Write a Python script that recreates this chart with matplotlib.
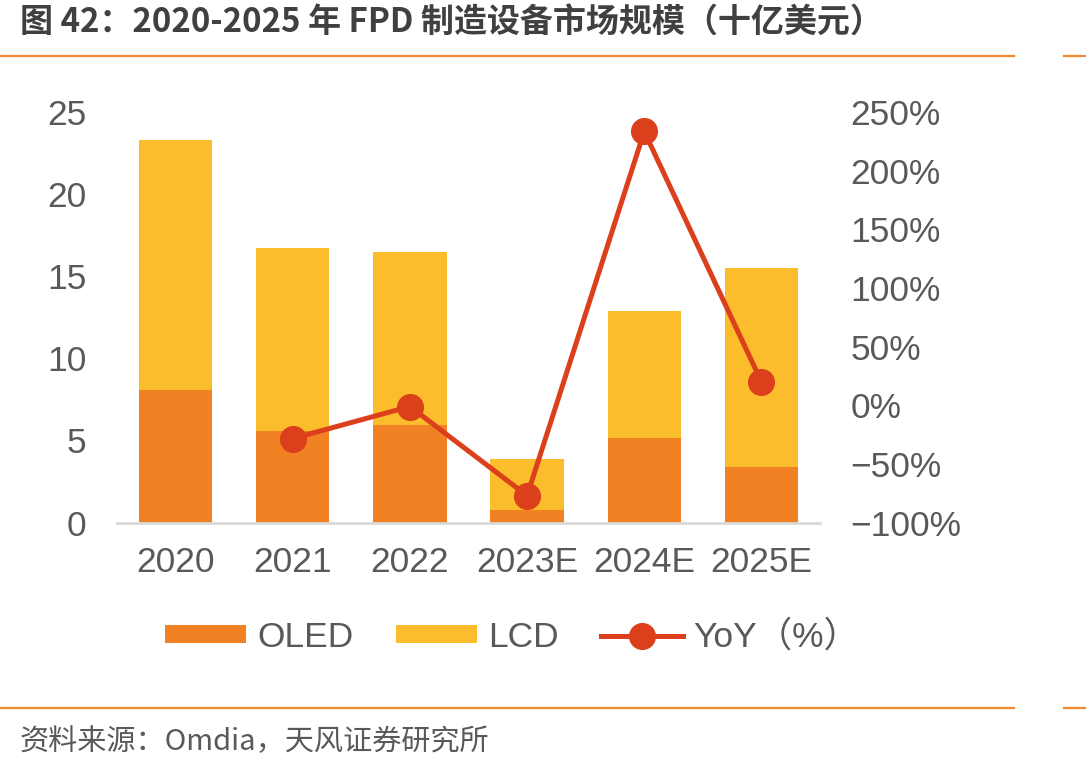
"""
FPD 制造设备市场规模 2020-2025（十亿美元）
"""

import matplotlib
matplotlib.use("Agg")
import matplotlib.pyplot as plt
from matplotlib.lines import Line2D
from matplotlib.ticker import FuncFormatter

plt.rcParams['font.family'] = ['Liberation Sans', 'Noto Sans CJK SC']

# 数据
years = ['2020', '2021', '2022', '2023E', '2024E', '2025E']
oled = [8.08, 5.58, 5.95, 0.76, 5.15, 3.38]
lcd = [15.22, 11.12, 10.55, 3.09, 7.75, 12.12]
yoy = [None, -28.4, -1.1, -77.1, 233.4, 20.0]

C_OLED = '#F18223'
C_LCD = '#FBBD2C'
C_LINE = '#DC3F1C'
C_TEXT = '#595959'
C_RULE = '#F28A30'

fig = plt.figure(figsize=(10.86, 7.71), dpi=100)
ax = fig.add_axes([117 / 1086, 1 - 522.5 / 771, (820 - 117) / 1086, (522.5 - 112) / 771])
ax2 = ax.twinx()

x = list(range(len(years)))
ax.bar(x, oled, width=0.625, color=C_OLED, label='OLED', zorder=2)
ax.bar(x, lcd, width=0.625, bottom=oled, color=C_LCD, label='LCD', zorder=2)

xs = [i for i, v in zip(x, yoy) if v is not None]
ys = [v for v in yoy if v is not None]
ax2.plot(xs, ys, color=C_LINE, lw=3.6, marker='o', ms=18.5, label='YoY（%）', zorder=3)

ax.set_xlim(-0.5, 5.5)
ax.set_ylim(0, 25)
ax.set_yticks([0, 5, 10, 15, 20, 25])
ax2.set_ylim(-100, 250)
ax2.set_yticks(range(-100, 251, 50))
ax2.yaxis.set_major_formatter(FuncFormatter(lambda v, p: f'{int(v)}%'.replace('-', '\u2212')))

ax.set_xticks(x)
ax.set_xticklabels(years)

for a in (ax, ax2):
    for s in a.spines.values():
        s.set_visible(False)
    a.tick_params(length=0, labelsize=25.5, labelcolor=C_TEXT)
ax.spines['bottom'].set_visible(True)
ax.spines['bottom'].set_color('#D9D9D9')
ax.spines['bottom'].set_linewidth(2)
ax.tick_params(axis='y', pad=22)
ax.tick_params(axis='x', pad=17)
ax2.tick_params(axis='y', pad=22)

# 图例
h1, l1 = ax.get_legend_handles_labels()
h2, l2 = ax2.get_legend_handles_labels()
leg = fig.legend(h1 + h2, l1 + l2, loc='center', bbox_to_anchor=(512 / 1086, 1 - 637 / 771),
                 ncol=3, frameon=False, fontsize=25.5, handlelength=2.3, handleheight=0.42,
                 handletextpad=0.3, columnspacing=1.2)
for t in leg.get_texts():
    t.set_color(C_TEXT)

# 标题和来源
fig.text(20 / 1086, 1 - 23 / 771, '图 42：2020-2025 年 FPD 制造设备市场规模（十亿美元）',
         fontsize=23.8, fontweight='bold', color='#404040', va='center', ha='left',
         family=['Noto Sans CJK SC'])
fig.text(20 / 1086, 1 - 742 / 771, '资料来源：Omdia，天风证券研究所',
         fontsize=21, color=C_TEXT, va='center', ha='left', family=['Noto Sans CJK SC'])

for yy in (55.7, 707.7):
    fig.add_artist(Line2D([0, 1014 / 1086], [1 - yy / 771] * 2, color=C_RULE, lw=1.6))
    fig.add_artist(Line2D([1064 / 1086, 1], [1 - yy / 771] * 2, color=C_RULE, lw=1.6))

fig.savefig('out.png', dpi=100)
plt.close(fig)
